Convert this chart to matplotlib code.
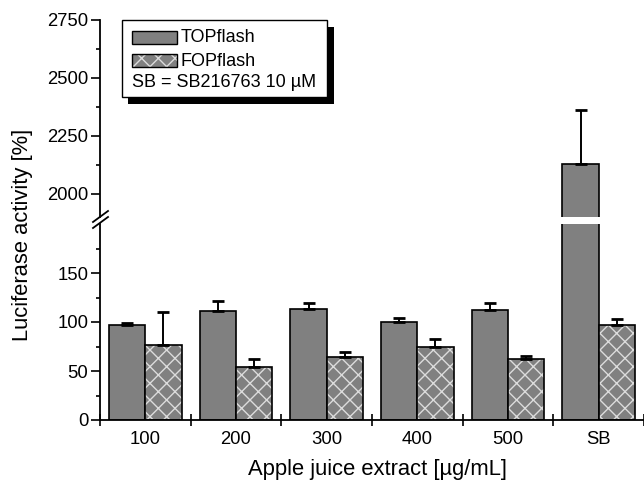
import matplotlib
matplotlib.use("Agg")
import matplotlib.pyplot as plt
import numpy as np
from matplotlib.patches import Rectangle
from matplotlib.ticker import FixedLocator

plt.rcParams['font.family'] = ['Liberation Sans', 'DejaVu Sans']
plt.rcParams['hatch.linewidth'] = 1.0

categories = ["100", "200", "300", "400", "500", "SB"]
top_mean = [97, 111, 113, 100, 112, 2130]
top_err = [2, 10, 6, 4, 7, 230]
fop_mean = [77, 54, 64, 74, 62, 97]
fop_err = [33, 8, 5, 9, 3, 6]
series_names = ["TOPflash", "FOPflash"]
note_text = "SB = SB216763 10 µM"
lower_lim = (0, 200)
upper_lim = (1900, 2750)
lower_major = [0, 50, 100, 150]
lower_minor = [25, 75, 125, 175]
upper_major = [2000, 2250, 2500, 2750]
upper_minor = [2125, 2375, 2625]

W, H = 644, 482
fig = plt.figure(figsize=(W / 100, H / 100), dpi=100)

def fx(px):
    return px / W

def fy(py):
    return 1 - py / H

TICK_FS = 13.3
LABEL_FS = 15.8
LEG_FS = 13

ax_lo = fig.add_axes([fx(100), fy(420), fx(644) - fx(100), fy(224) - fy(420)])
ax_hi = fig.add_axes([fx(100), fy(217), fx(644) - fx(100), fy(20) - fy(217)])

x = np.arange(1, len(categories) + 1)
w = 0.4
gray = '#808080'
hatch_col = '#dcdcdc'

for ax in (ax_lo, ax_hi):
    ax.bar(x - w / 2, top_mean, w, color=gray, edgecolor='black', linewidth=1.2, zorder=2)
    ax.bar(x + w / 2, fop_mean, w, color=gray, edgecolor=hatch_col, linewidth=0, hatch='xx', zorder=2)
    ax.bar(x + w / 2, fop_mean, w, color='none', edgecolor='black', linewidth=1.2, zorder=3)
    ax.errorbar(x - w / 2, top_mean, yerr=[np.zeros(len(x)), top_err], fmt='none',
                ecolor='black', elinewidth=1.4, capsize=4, capthick=2, zorder=4)
    ax.errorbar(x + w / 2, fop_mean, yerr=[np.zeros(len(x)), fop_err], fmt='none',
                ecolor='black', elinewidth=1.4, capsize=4, capthick=2, zorder=4)
    ax.set_xlim(0.5, len(categories) + 0.5)
    ax.spines['top'].set_visible(False)
    ax.spines['right'].set_visible(False)
    ax.spines['left'].set_linewidth(1.3)
    ax.tick_params(axis='y', which='major', direction='out', length=6.5, width=1.2,
                   labelsize=TICK_FS, pad=2)
    ax.tick_params(axis='y', which='minor', direction='out', length=3, width=1.2)

ax_lo.set_ylim(*lower_lim)
ax_lo.yaxis.set_major_locator(FixedLocator(lower_major))
ax_lo.yaxis.set_minor_locator(FixedLocator(lower_minor))
ax_lo.spines['bottom'].set_linewidth(1.3)
ax_lo.set_xticks(x)
ax_lo.set_xticklabels(categories)
ax_lo.xaxis.set_minor_locator(FixedLocator(np.arange(0.5, len(categories) + 1, 1.0)))
ax_lo.tick_params(axis='x', which='major', length=0, labelsize=TICK_FS, pad=8)
ax_lo.tick_params(axis='x', which='minor', direction='inout', length=8, width=1.2)

ax_hi.set_ylim(*upper_lim)
ax_hi.yaxis.set_major_locator(FixedLocator(upper_major))
ax_hi.yaxis.set_minor_locator(FixedLocator(upper_minor))
ax_hi.spines['bottom'].set_visible(False)
ax_hi.set_xticks([])
ax_hi.tick_params(axis='x', which='both', length=0, labelbottom=False)

fig.text(fx(377), fy(470), "Apple juice extract [µg/mL]", fontsize=LABEL_FS,
         ha='center', va='center')
fig.text(fx(23), fy(235), "Luciferase activity [%]", rotation=90, fontsize=LABEL_FS,
         ha='center', va='center')

# axis break marks
for dy in (-3, 3):
    fig.add_artist(plt.Line2D([fx(93), fx(108)], [fy(225 + dy), fy(214 + dy)],
                              transform=fig.transFigure, color='black', lw=1.3))

# legend box with shadow
def rect_px(x0, y0, x1, y1, **kw):
    r = Rectangle((fx(x0), fy(y1)), fx(x1) - fx(x0), fy(y0) - fy(y1),
                  transform=fig.transFigure, **kw)
    fig.add_artist(r)
    return r

rect_px(128, 27, 334, 104, facecolor='black', edgecolor='none', zorder=10)
rect_px(122, 20, 327, 97, facecolor='white', edgecolor='black', linewidth=1.0, zorder=11)
rect_px(132, 31, 177, 44, facecolor=gray, edgecolor='black', linewidth=1.0, zorder=12)
rect_px(132, 54, 177, 67, facecolor=gray, edgecolor=hatch_col, linewidth=0, hatch='xx', zorder=12)
rect_px(132, 54, 177, 67, facecolor='none', edgecolor='black', linewidth=1.0, zorder=13)
fig.text(fx(181), fy(38), series_names[0], fontsize=LEG_FS, va='center', ha='left', zorder=14)
fig.text(fx(181), fy(61), series_names[1], fontsize=LEG_FS, va='center', ha='left', zorder=14)
fig.text(fx(132), fy(82), note_text, fontsize=LEG_FS, va='center', ha='left', zorder=14)

fig.savefig("out.png", dpi=100)
